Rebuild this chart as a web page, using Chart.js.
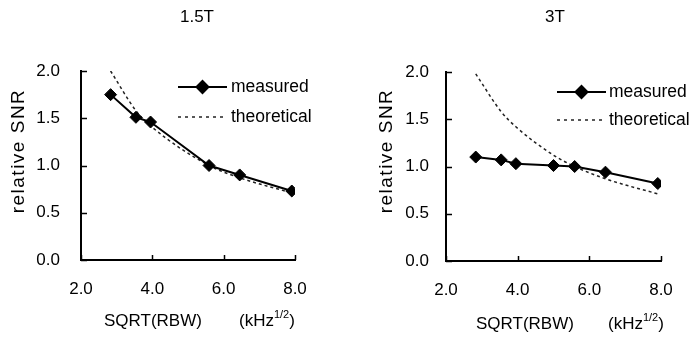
<!DOCTYPE html>
<html>
<head>
<meta charset="utf-8">
<script src="https://cdn.jsdelivr.net/npm/chart.js@4.4.1/dist/chart.umd.min.js"></script>
<style>
  body { margin: 0; background: #fff; }
  #wrap { display: flex; width: 691px; height: 337px; }
  .panel { position: relative; height: 337px; }
</style>
</head>
<body>
<div id="wrap">
  <div class="panel" style="width:345px"><canvas id="chart15"></canvas></div>
  <div class="panel" style="width:346px"><canvas id="chart3"></canvas></div>
</div>
<script>
// ---- data ----
const xTicks = [2, 4, 6, 8];
const yTicks = [0, 0.5, 1, 1.5, 2];

// 1.5T
const rbw15 = [2.83, 3.54, 3.95, 5.59, 6.45, 7.91];
const measured15 = [1.75, 1.51, 1.46, 1.0, 0.90, 0.73];
const theory15 = [2.0, 1.58, 1.42, 1.0, 0.87, 0.71];

// 3T
const rbw3 = [2.83, 3.54, 3.95, 5.0, 5.59, 6.45, 7.91];
const measured3 = [1.10, 1.07, 1.03, 1.01, 1.0, 0.94, 0.82];
const theory3 = [1.98, 1.58, 1.42, 1.12, 1.0, 0.87, 0.71];

const FONT = "'Liberation Sans', Arial, sans-serif";
Chart.defaults.font.family = FONT;
Chart.defaults.color = '#000';

// titles, legend, axis titles and inward ticks
const decoPlugin = {
  id: 'deco',
  afterDraw(chart, args, o) {
    const ctx = chart.ctx;
    const ca = chart.chartArea;
    const xs = chart.scales.x, ys = chart.scales.y;
    ctx.save();
    ctx.fillStyle = '#000';
    ctx.strokeStyle = '#000';

    // inward tick marks
    ctx.lineWidth = 1.5;
    ctx.beginPath();
    xs.ticks.forEach(t => {
      const px = Math.round(xs.getPixelForValue(t.value)) + 0.5;
      ctx.moveTo(px, ca.bottom);
      ctx.lineTo(px, ca.bottom - 5);
    });
    ys.ticks.forEach(t => {
      const py = Math.round(ys.getPixelForValue(t.value)) + 0.5;
      ctx.moveTo(ca.left, py);
      ctx.lineTo(ca.left + 6, py);
    });
    ctx.stroke();

    // panel title
    ctx.font = '17px ' + FONT;
    ctx.textAlign = 'center';
    ctx.textBaseline = 'middle';
    ctx.fillText(o.title, o.titleX, o.titleY);

    // y axis title
    ctx.save();
    ctx.font = '19px ' + FONT;
    ctx.letterSpacing = '1.5px';
    ctx.translate(o.yTitleX, o.yTitleY);
    ctx.rotate(-Math.PI / 2);
    ctx.fillText('relative SNR', 0, 0);
    ctx.restore();

    // x axis title with superscript
    ctx.font = '17px ' + FONT;
    ctx.textAlign = 'left';
    ctx.textBaseline = 'alphabetic';
    ctx.fillText('SQRT(RBW)', o.xTitleX, o.xTitleBase);
    let ux = o.unitX;
    ctx.fillText('(kHz', ux, o.xTitleBase);
    ux += ctx.measureText('(kHz').width;
    ctx.font = '11px ' + FONT;
    ctx.fillText('1/2', ux, o.xTitleBase - 8);
    ux += ctx.measureText('1/2').width;
    ctx.font = '17px ' + FONT;
    ctx.fillText(')', ux, o.xTitleBase);

    // legend inside plot
    const lg = o.legend;
    ctx.lineWidth = 2;
    ctx.beginPath();
    ctx.moveTo(lg.x1, lg.y1);
    ctx.lineTo(lg.x2, lg.y1);
    ctx.stroke();
    Chart.helpers.drawPoint(ctx, { pointStyle: 'rectRot', radius: 6, borderWidth: 1 }, (lg.x1 + lg.x2) / 2, lg.y1);
    ctx.lineWidth = 1.5;
    ctx.setLineDash([3, 4]);
    ctx.strokeStyle = '#222';
    ctx.beginPath();
    ctx.moveTo(lg.x1, lg.y2);
    ctx.lineTo(lg.x2, lg.y2);
    ctx.stroke();
    ctx.setLineDash([]);
    ctx.font = '17.5px ' + FONT;
    ctx.textBaseline = 'middle';
    ctx.fillText('measured', lg.tx, lg.y1);
    ctx.fillText('theoretical', lg.tx, lg.y2);
    ctx.restore();
  }
};

function makeChart(id, xs, meas, theo, lay) {
  const toPts = vals => xs.map((x, i) => ({ x: x, y: vals[i] }));
  return new Chart(document.getElementById(id), {
    type: 'line',
    data: {
      datasets: [
        {
          label: 'measured',
          data: toPts(meas),
          borderColor: '#000',
          backgroundColor: '#000',
          borderWidth: 2,
          pointStyle: 'rectRot',
          pointRadius: 6,
          pointBorderWidth: 1,
          tension: 0
        },
        {
          label: 'theoretical',
          data: toPts(theo),
          borderColor: '#222',
          borderWidth: 1.5,
          borderDash: [3, 3],
          pointRadius: 0,
          cubicInterpolationMode: 'monotone'
        }
      ]
    },
    options: {
      responsive: true,
      maintainAspectRatio: false,
      animation: false,
      events: [],
      layout: { padding: { top: lay.top, right: lay.right, bottom: 0, left: 0 } },
      plugins: {
        legend: { display: false },
        title: { display: false },
        tooltip: { enabled: false },
        deco: lay.deco
      },
      scales: {
        x: {
          type: 'linear',
          min: 2, max: 8,
          afterBuildTicks: s => { s.ticks = xTicks.map(v => ({ value: v })); },
          afterFit: s => { s.height = lay.xHeight; },
          grid: { display: false },
          border: { display: true, color: '#000', width: 2 },
          ticks: { padding: 11, maxRotation: 0, font: { size: 17 }, callback: v => v.toFixed(1) }
        },
        y: {
          min: 0, max: 2,
          afterBuildTicks: s => { s.ticks = yTicks.map(v => ({ value: v })); },
          afterFit: s => { s.width = lay.yWidth; },
          grid: { display: false },
          border: { display: true, color: '#000', width: 2 },
          ticks: { padding: lay.yPad, font: { size: 17 }, callback: v => v.toFixed(1) }
        }
      }
    },
    plugins: [decoPlugin]
  });
}

makeChart('chart15', rbw15, measured15, theory15, {
  top: 71, right: 50, xHeight: 77, yWidth: 81, yPad: 13,
  deco: {
    title: '1.5T', titleX: 197, titleY: 17,
    yTitleX: 19, yTitleY: 151,
    xTitleX: 104, unitX: 239, xTitleBase: 326,
    legend: { x1: 178, x2: 227, y1: 87, y2: 117, tx: 231 }
  }
});

makeChart('chart3', rbw3, measured3, theory3, {
  top: 72, right: 30, xHeight: 76, yWidth: 101, yPad: 9,
  deco: {
    title: '3T', titleX: 210, titleY: 17,
    yTitleX: 42, yTitleY: 151,
    xTitleX: 131, unitX: 263, xTitleBase: 329,
    legend: { x1: 212, x2: 261, y1: 92, y2: 120, tx: 264 }
  }
});
</script>
</body>
</html>
